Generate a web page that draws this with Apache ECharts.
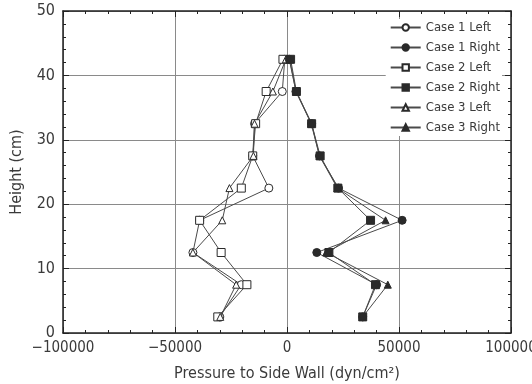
<!DOCTYPE html>
<html>
<head>
<meta charset="utf-8">
<script src="https://cdn.jsdelivr.net/npm/echarts@6/dist/echarts.min.js"></script>
<style>
  html, body { margin: 0; padding: 0; background: #fff; }
  #chart { width: 532px; height: 384px; }
</style>
</head>
<body>
<div id="chart"></div>
<script>
// heights (cm) where the pressure was measured
const heights = [42.5, 37.5, 32.5, 27.5, 22.5, 17.5, 12.5, 7.5, 2.5];

// pressure to side wall (dyn/cm2), one value per height
const case1Left = [-1000, -2100, -14500, -15300, -8100, -39000, -42000, -20400, -30000];
const case1Right = [1000, 4000, 11000, 14500, 23000, 51400, 13300, 40000, 33800];
const case2Left = [-1800, -9300, -14000, -15300, -20400, -39000, -29400, -17900, -30900];
const case2Right = [1600, 4200, 11000, 14800, 22700, 37300, 18700, 39500, 33800];
const case3Left = [-500, -6300, -14500, -15000, -25700, -28900, -42000, -22700, -29800];
const case3Right = [1200, 4000, 10800, 14500, 22500, 44000, 17500, 45000, 33800];

const xTicks = [-100000, -50000, 0, 50000, 100000];
const yTicks = [0, 10, 20, 30, 40, 50];

const FONT = '"Liberation Sans Narrow", "DejaVu Sans Condensed", "Liberation Sans", sans-serif';
const INK = '#3a3a3a';

const chart = echarts.init(document.getElementById('chart'), null, { renderer: 'canvas' });

const pairs = (vals) => vals.map((v, i) => [v, heights[i]]);

const mkSeries = (name, vals, symbol, filled, size) => ({
  name,
  type: 'line',
  data: pairs(vals),
  symbol,
  symbolSize: size,
  showAllSymbol: true,
  lineStyle: { color: '#4a4a4a', width: 1 },
  itemStyle: {
    color: filled ? '#2a2a2a' : '#ffffff',
    borderColor: '#2a2a2a',
    borderWidth: 1,
  },
  emphasis: { disabled: true },
  z: filled ? 3 : 2,
});

// frame on all four sides, ticks pointing inward
const baseAxisLine = { show: true, onZero: false, lineStyle: { color: '#222', width: 1.5 } };
const tick = { inside: true, length: 6, lineStyle: { color: '#222' } };
const minor = { show: true, splitNumber: 5, length: 3, lineStyle: { color: '#222' } };

chart.setOption({
  animation: false,
  backgroundColor: '#fff',
  grid: { left: 63, right: 21, top: 11, bottom: 51, outerBoundsMode: 'none', containLabel: false },
  legend: {
    orient: 'vertical',
    right: 30,
    top: 19,
    itemWidth: 30,
    itemHeight: 8,
    itemGap: 7,
    backgroundColor: '#fff',
    padding: [2, 2, 2, 4],
    textStyle: { fontFamily: FONT, fontSize: 13, color: INK },
    data: ['Case 1 Left', 'Case 1 Right', 'Case 2 Left', 'Case 2 Right', 'Case 3 Left', 'Case 3 Right'],
  },
  xAxis: [
    {
      type: 'value',
      position: 'bottom',
      min: xTicks[0],
      max: xTicks[xTicks.length - 1],
      interval: 50000,
      name: 'Pressure to Side Wall (dyn/cm²)',
      nameLocation: 'middle',
      nameGap: 33,
      nameTextStyle: { fontFamily: FONT, fontSize: 16, color: INK },
      axisLine: baseAxisLine,
      axisTick: tick,
      minorTick: minor,
      axisLabel: {
        fontFamily: FONT, fontSize: 15, color: INK, margin: 8,
        formatter: (v) => (v < 0 ? '\u2212' + Math.abs(v) : String(v)),
      },
      splitLine: { show: true, lineStyle: { color: '#8a8a8a', width: 1 } },
    },
    {
      type: 'value',
      position: 'top',
      min: xTicks[0],
      max: xTicks[xTicks.length - 1],
      interval: 50000,
      axisLine: baseAxisLine,
      axisTick: tick,
      minorTick: minor,
      axisLabel: { show: false },
      splitLine: { show: false },
    },
  ],
  yAxis: [
    {
      type: 'value',
      position: 'left',
      min: yTicks[0],
      max: yTicks[yTicks.length - 1],
      interval: 10,
      name: 'Height (cm)',
      nameLocation: 'middle',
      nameGap: 38,
      nameRotate: 90,
      nameTextStyle: { fontFamily: FONT, fontSize: 16, color: INK },
      axisLine: baseAxisLine,
      axisTick: tick,
      minorTick: minor,
      axisLabel: { fontFamily: FONT, fontSize: 16, color: INK, margin: 8 },
      splitLine: { show: true, lineStyle: { color: '#8a8a8a', width: 1 } },
    },
    {
      type: 'value',
      position: 'right',
      min: yTicks[0],
      max: yTicks[yTicks.length - 1],
      interval: 10,
      axisLine: baseAxisLine,
      axisTick: tick,
      minorTick: minor,
      axisLabel: { show: false },
      splitLine: { show: false },
    },
  ],
  series: [
    mkSeries('Case 1 Left', case1Left, 'circle', false, 8),
    mkSeries('Case 1 Right', case1Right, 'circle', true, 8),
    mkSeries('Case 2 Left', case2Left, 'rect', false, 8),
    mkSeries('Case 2 Right', case2Right, 'rect', true, 8),
    mkSeries('Case 3 Left', case3Left, 'triangle', false, 7),
    mkSeries('Case 3 Right', case3Right, 'triangle', true, 7),
  ],
});
</script>
</body>
</html>
